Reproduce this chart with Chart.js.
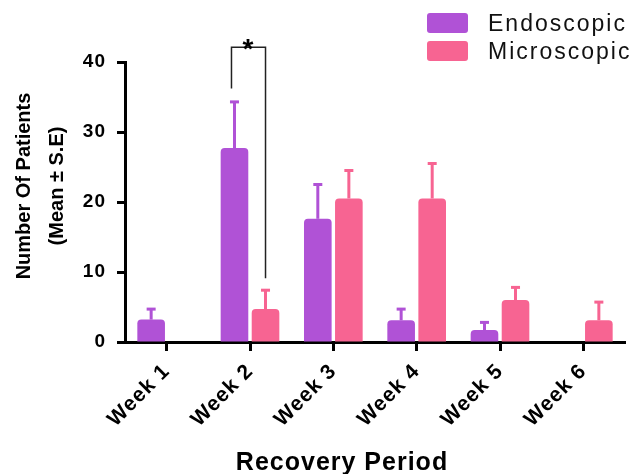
<!DOCTYPE html>
<html>
<head>
<meta charset="utf-8">
<script src="https://cdn.jsdelivr.net/npm/chart.js@4.4.1/dist/chart.umd.min.js"></script>
<style>
  body { margin: 0; background: #fff; }
  #wrap { position: relative; width: 633px; height: 474px; }
  #legend { position: absolute; left: 427px; top: 9px; font: 23px "Liberation Sans", Arial, sans-serif; letter-spacing: 2px; color: #111; }
  .item { display: flex; align-items: center; height: 28px; }
  .swatch { width: 41px; height: 20px; border-radius: 3px; margin-right: 20px; }
</style>
</head>
<body>
<div id="wrap">
  <canvas id="chart" width="633" height="474"></canvas>
  <div id="legend"></div>
</div>
<script>
const weeks = ['Week 1', 'Week 2', 'Week 3', 'Week 4', 'Week 5', 'Week 6'];
const endoscopic = [3.2, 27.7, 17.6, 3.1, 1.7, 0];
const endoscopicSE = [1.5, 6.6, 4.9, 1.6, 1.1, 0];
const microscopic = [0, 4.7, 20.5, 20.5, 6.0, 3.1];
const microscopicSE = [0, 2.7, 4.0, 5.0, 1.8, 2.6];
const yTicks = [0, 10, 20, 30, 40];
const seriesNames = ['Endoscopic', 'Microscopic'];
const seriesColors = ['#b052d6', '#f76492'];
// significance bracket over week 2 (axis units)
const bracket = { week: 1, left: 36.2, top: 42.1, right: 9.1, label: '*' };

const FONT = '"Liberation Sans", Arial, sans-serif';
const errors = [endoscopicSE, microscopicSE];

// legend as html
document.getElementById('legend').innerHTML = seriesNames.map((n, i) =>
  `<div class="item"><span class="swatch" style="background:${seriesColors[i]}"></span>${n}</div>`).join('');

const spacing = {
  id: 'spacing',
  beforeDraw(chart) { chart.ctx.letterSpacing = '1px'; }
};

const errorBars = {
  id: 'errorBars',
  afterDatasetsDraw(chart) {
    const ctx = chart.ctx, y = chart.scales.y;
    errors.forEach((se, i) => {
      const meta = chart.getDatasetMeta(i);
      meta.data.forEach((bar, j) => {
        if (!se[j]) return;
        const top = y.getPixelForValue(chart.data.datasets[i].data[j] + se[j]);
        ctx.save();
        ctx.strokeStyle = seriesColors[i];
        ctx.fillStyle = seriesColors[i];
        ctx.lineWidth = 3;
        ctx.beginPath();
        ctx.moveTo(bar.x, bar.y);
        ctx.lineTo(bar.x, top);
        ctx.stroke();
        ctx.fillRect(bar.x - 4.5, top - 1.5, 9, 3);
        ctx.restore();
      });
    });
  }
};

const sigBracket = {
  id: 'sigBracket',
  afterDatasetsDraw(chart) {
    const ctx = chart.ctx, y = chart.scales.y;
    const x1 = chart.getDatasetMeta(0).data[bracket.week].x - 3;
    const x2 = chart.getDatasetMeta(1).data[bracket.week].x;
    const yt = y.getPixelForValue(bracket.top);
    ctx.save();
    ctx.strokeStyle = '#222';
    ctx.lineWidth = 1.5;
    ctx.beginPath();
    ctx.moveTo(x1, y.getPixelForValue(bracket.left));
    ctx.lineTo(x1, yt);
    ctx.lineTo(x2, yt);
    ctx.lineTo(x2, y.getPixelForValue(bracket.right));
    ctx.stroke();
    ctx.fillStyle = '#000';
    ctx.font = `bold 28px ${FONT}`;
    ctx.textAlign = 'center';
    ctx.textBaseline = 'alphabetic';
    ctx.fillText(bracket.label, (x1 + x2) / 2, yt + 11);
    ctx.restore();
  }
};

const axisTitles = {
  id: 'axisTitles',
  afterDraw(chart) {
    const ctx = chart.ctx;
    ctx.save();
    ctx.fillStyle = '#000';
    ctx.textAlign = 'center';
    ctx.textBaseline = 'middle';
    ctx.font = `bold 20px ${FONT}`;
    ctx.letterSpacing = '0px';
    [['Number Of Patients', 24], ['(Mean \u00b1 S.E)', 57]].forEach(([t, x]) => {
      ctx.save();
      ctx.translate(x, 186);
      ctx.rotate(-Math.PI / 2);
      ctx.fillText(t, 0, 0);
      ctx.restore();
    });
    ctx.font = `bold 25px ${FONT}`;
    ctx.letterSpacing = '1px';
    ctx.textBaseline = 'alphabetic';
    ctx.fillText('Recovery Period', 342, 470);
    ctx.restore();
  }
};

new Chart(document.getElementById('chart'), {
  type: 'bar',
  data: {
    labels: weeks,
    datasets: [
      { label: seriesNames[0], data: endoscopic, backgroundColor: seriesColors[0] },
      { label: seriesNames[1], data: microscopic, backgroundColor: seriesColors[1] }
    ]
  },
  options: {
    responsive: false,
    animation: false,
    devicePixelRatio: 1,
    layout: { padding: { top: 62, right: 8, left: 0, bottom: 0 } },
    datasets: {
      bar: { categoryPercentage: 0.745, barPercentage: 0.89, borderRadius: 4, borderSkipped: 'start' }
    },
    plugins: { legend: { display: false }, tooltip: { enabled: false } },
    scales: {
      x: {
        grid: { display: true, drawOnChartArea: false, offset: false, tickLength: 9, tickWidth: 3, tickColor: '#000' },
        border: { display: true, color: '#000', width: 3 },
        ticks: { color: '#000', font: { family: FONT, size: 21, weight: 'bold' }, minRotation: 45, maxRotation: 45, padding: 8 },
        afterFit(s) { s.height = 132; }
      },
      y: {
        min: 0,
        max: 40,
        afterBuildTicks(s) { s.ticks = yTicks.map(v => ({ value: v })); },
        grid: { display: true, drawOnChartArea: false, tickLength: 8, tickWidth: 3, tickColor: '#000' },
        border: { display: true, color: '#000', width: 3 },
        ticks: { color: '#000', font: { family: FONT, size: 19, weight: 'bold' }, padding: 11 },
        afterFit(s) { s.width = 125; }
      }
    }
  },
  plugins: [spacing, errorBars, sigBracket, axisTitles]
});
</script>
</body>
</html>
